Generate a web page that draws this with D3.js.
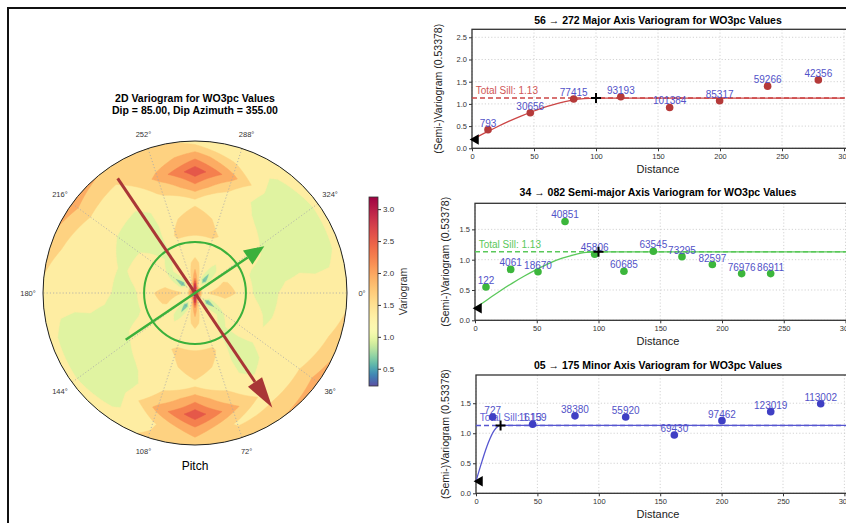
<!DOCTYPE html>
<html lang="en">
<head>
<meta charset="utf-8">
<title>2D Variogram for WO3pc Values</title>
<script src="https://d3js.org/d3.v7.min.js"></script>
<style type="text/css">
  body { margin: 0; background: white; }
  svg { display: block; font-family: "Liberation Sans", Arial, sans-serif; }
  .tick text { fill: #333; }
  .tick line { stroke: #333; }
</style>
</head>
<body>
<script type="text/javascript">

//Width and height
var w = 846;
var h = 523;

//Variogram map: one row per pitch angle (deg, clockwise), values at each radius
var mapAngles = [0, 18, 36, 54, 72, 90, 108, 126, 144, 162, 180, 198, 216, 234, 252, 270, 288, 306, 324, 342];
var mapRadii = [0, 0.05, 0.1, 0.2, 0.3, 0.4, 0.5, 0.6, 0.7, 0.8, 0.9, 1.0];
var mapValues = [
  [3.0, 1.3, 1.5, 1.65, 1.35, 1.1, 1.05, 1.25, 1.3, 1.3, 1.3, 1.35],
  [3.0, 1.3, 1.25, 1.3, 1.3, 1.25, 1.1, 1.25, 1.3, 1.3, 1.4, 1.6],
  [3.0, 1.3, 0.5, 1.1, 1.25, 1.3, 1.2, 1.25, 1.3, 1.35, 1.55, 1.95],
  [3.0, 1.3, 1.2, 1.2, 1.1, 1.0, 1.0, 1.05, 1.2, 1.3, 1.5, 1.75],
  [3.0, 1.6, 1.3, 1.3, 1.3, 1.5, 1.35, 1.3, 1.5, 1.85, 1.4, 1.65],
  [3.0, 2.9, 2.0, 1.55, 1.25, 1.5, 1.7, 1.35, 1.94, 2.55, 1.94, 1.55],
  [3.0, 1.6, 1.3, 1.3, 1.3, 1.5, 1.35, 1.3, 1.5, 1.85, 1.4, 1.5],
  [3.0, 1.3, 0.5, 1.1, 1.25, 1.3, 1.25, 1.2, 1.05, 1.1, 1.1, 1.3],
  [3.0, 1.3, 1.2, 1.2, 1.25, 1.3, 1.2, 1.0, 0.95, 0.95, 1.0, 1.25],
  [3.0, 1.3, 1.25, 1.5, 1.3, 1.1, 1.05, 1.0, 1.05, 1.0, 1.05, 1.25],
  [3.0, 1.3, 1.5, 1.65, 1.35, 1.1, 1.05, 1.25, 1.3, 1.3, 1.3, 1.35],
  [3.0, 1.3, 1.25, 1.3, 1.3, 1.25, 1.1, 1.25, 1.3, 1.3, 1.4, 1.6],
  [3.0, 1.3, 0.5, 1.1, 1.25, 1.2, 1.1, 1.1, 1.25, 1.35, 1.55, 1.95],
  [3.0, 1.3, 1.2, 1.2, 1.1, 1.0, 1.0, 1.05, 1.2, 1.2, 1.5, 1.7],
  [3.0, 1.6, 1.3, 1.3, 1.3, 1.5, 1.35, 1.3, 1.5, 1.85, 1.55, 1.6],
  [3.0, 2.9, 2.0, 1.55, 1.25, 1.5, 1.7, 1.35, 1.94, 2.55, 1.94, 1.3],
  [3.0, 1.6, 1.3, 1.3, 1.3, 1.5, 1.35, 1.3, 1.45, 1.85, 1.4, 1.3],
  [3.0, 1.3, 0.5, 1.1, 1.25, 1.3, 1.3, 1.2, 1.05, 1.1, 1.1, 1.3],
  [3.0, 1.3, 1.2, 1.2, 1.25, 1.3, 1.2, 1.0, 0.95, 0.95, 1.0, 1.25],
  [3.0, 1.3, 1.25, 1.5, 1.3, 1.1, 1.05, 1.0, 1.05, 1.0, 1.05, 1.25]
];
var mapLevels = [0.25, 0.55, 0.85, 1.15, 1.45, 1.75, 2.05, 2.35, 2.65, 2.95];
var angleTicks = [0, 36, 72, 108, 144, 180, 216, 252, 288, 324];
var colorTicks = [0.5, 1.0, 1.5, 2.0, 2.5, 3.0];
var colorDomain = [0.23, 1.13, 3.19];

//Fitted directions drawn on the map
var dirAngles = [56, 326];
var dirLengths = [0.91, 0.55];
var dirColors = ["#a93636", "#3bb03b"];
var minorRadius = 0.335;

//Directional variograms
var panelTitles = [
  "56 \u2192 272 Major Axis Variogram for WO3pc Values",
  "34 \u2192 082 Semi-major Axis Variogram for WO3pc Values",
  "05 \u2192 175 Minor Axis Variogram for WO3pc Values"
];
var majorLag = [12.9, 47, 82, 120, 159.4, 199.7, 238.4, 279.3];
var majorGamma = [0.42, 0.80, 1.11, 1.16, 0.92, 1.07, 1.40, 1.54];
var majorPairs = [793, 30656, 77415, 93193, 101384, 85317, 59266, 42356];

var semiLag = [8.9, 28.9, 51, 72.9, 96.9, 120.6, 144.4, 167.6, 192.2, 215.9, 239.4];
var semiGamma = [0.55, 0.84, 0.80, 1.63, 1.09, 0.81, 1.14, 1.05, 0.92, 0.77, 0.77];
var semiPairs = [122, 4061, 18670, 40851, 45806, 60685, 63545, 73295, 82597, 76976, 86911];

var minorLag = [13.6, 46.1, 80.6, 121.9, 161.5, 200.3, 240, 280.7];
var minorGamma = [1.27, 1.15, 1.29, 1.27, 0.97, 1.21, 1.36, 1.49];
var minorPairs = [727, 16159, 38380, 55920, 69430, 97462, 123019, 113002];

//Fitted model curves
var longModelLag = [0, 10, 20, 30, 40, 50, 60, 70, 80, 90, 100, 300];
var longModelGamma = [0.2, 0.34, 0.48, 0.61, 0.73, 0.84, 0.94, 1.02, 1.08, 1.12, 1.13, 1.13];
var shortModelLag = [0, 5, 10, 15, 20, 300];
var shortModelGamma = [0.2, 0.54, 0.84, 1.05, 1.13, 1.13];

var totalSill = 1.13;
var nugget = 0.2;
var ranges = [100, 100, 20];
var distTicks = [0, 50, 100, 150, 200, 250, 300];

//Create SVG element
var svg = d3.select("body")
  .append("svg")
  .attr("width", w)
  .attr("height", h);

//Figure frame
svg.append("rect")
  .attr("x", 8).attr("y", 8)
  .attr("width", 900).attr("height", 600)
  .attr("fill", "none")
  .attr("stroke", "#111")
  .attr("stroke-width", 2);

//Colour: Spectral reversed, centred on the sill
var norm = d3.scaleLinear().domain(colorDomain).range([1, 0.5, 0]).clamp(true);
var color = function(v) { return d3.interpolateSpectral(norm(v)); };
//colour of a filled band, picked inside the band
var bandColor = function(lo) { return color(lo < colorDomain[1] ? lo + 0.1 : lo + 0.2); };

// ---------- polar variogram map ----------
var cx = 195, cy = 293, R = 152;
var nA = mapAngles.length + 1;
var nR = mapRadii.length;

var grid = [];
for (var j = 0; j < nR; j++) {
  for (var i = 0; i < nA; i++) {
    grid.push(mapValues[i % mapAngles.length][j]);
  }
}

var bands = d3.contours().size([nA, nR]).thresholds(mapLevels)(grid);

var thetaScale = d3.scaleLinear().domain([0.5, nA - 0.5]).range([0, 360]);
var rScale = d3.scaleLinear()
  .domain(mapRadii.map(function(d, i) { return i + 0.5; }))
  .range(mapRadii.map(function(d) { return d * R; }));

function clipSide(ring, k, v, above) {
  var out = [];
  for (var i = 0; i < ring.length; i++) {
    var a = ring[i], b = ring[(i + 1) % ring.length];
    var ina = above ? a[k] >= v : a[k] <= v;
    var inb = above ? b[k] >= v : b[k] <= v;
    if (ina) out.push(a);
    if (ina !== inb) {
      var t = (v - a[k]) / (b[k] - a[k]);
      out.push([a[0] + t * (b[0] - a[0]), a[1] + t * (b[1] - a[1])]);
    }
  }
  return out;
}

function toXY(p) {
  var a = thetaScale(p[0]) * Math.PI / 180;
  var r = rScale(p[1]);
  return [cx + r * Math.cos(a), cy + r * Math.sin(a)];
}

function ringPath(ring) {
  ring = clipSide(ring, 0, 0.5, true);
  ring = clipSide(ring, 0, nA - 0.5, false);
  ring = clipSide(ring, 1, 0.5, true);
  ring = clipSide(ring, 1, nR - 0.5, false);
  if (ring.length < 3) return "";
  var pts = [];
  for (var i = 0; i < ring.length; i++) {
    var a = ring[i], b = ring[(i + 1) % ring.length];
    var n = Math.max(1, Math.ceil(Math.abs(b[0] - a[0]) / 0.1));
    for (var s = 0; s < n; s++) {
      pts.push(toXY([a[0] + (b[0] - a[0]) * s / n, a[1] + (b[1] - a[1]) * s / n]));
    }
  }
  return "M" + pts.map(function(p) { return p[0].toFixed(2) + "," + p[1].toFixed(2); }).join("L") + "Z";
}

svg.append("clipPath").attr("id", "disk")
  .append("circle").attr("cx", cx).attr("cy", cy).attr("r", R);

svg.append("g")
  .attr("clip-path", "url(#disk)")
  .selectAll("path")
  .data(bands)
  .enter()
  .append("path")
  .attr("d", function(d) {
    return d.coordinates.map(function(poly) {
      return poly.map(ringPath).join("");
    }).join("");
  })
  .attr("fill-rule", "evenodd")
  .attr("fill", function(d) { return bandColor(d.value); })
  .attr("stroke", function(d) { return bandColor(d.value); })
  .attr("stroke-width", 0.5);

//Angle grid
svg.append("g").selectAll("line")
  .data(angleTicks)
  .enter()
  .append("line")
  .attr("x1", cx).attr("y1", cy)
  .attr("x2", function(d) { return cx + R * Math.cos(d * Math.PI / 180); })
  .attr("y2", function(d) { return cy + R * Math.sin(d * Math.PI / 180); })
  .attr("stroke", "#a8a8a8")
  .attr("stroke-width", 0.8)
  .attr("stroke-dasharray", "1.2,2");

svg.append("g").selectAll("text")
  .data(angleTicks)
  .enter()
  .append("text")
  .attr("x", function(d) { return cx + 167 * Math.cos(d * Math.PI / 180); })
  .attr("y", function(d) { return cy + 167 * Math.sin(d * Math.PI / 180); })
  .attr("dy", "0.35em")
  .attr("text-anchor", "middle")
  .attr("font-size", 7.5)
  .attr("fill", "#333")
  .text(function(d) { return d + "\u00b0"; });

svg.append("circle")
  .attr("cx", cx).attr("cy", cy).attr("r", R)
  .attr("fill", "none")
  .attr("stroke", "#222")
  .attr("stroke-width", 1);

//Minor range circle
svg.append("circle")
  .attr("cx", cx).attr("cy", cy).attr("r", minorRadius * R)
  .attr("fill", "none")
  .attr("stroke", dirColors[1])
  .attr("stroke-width", 2);

//Direction arrows
var headLen = [31, 20], headWid = [17, 17], shaftWid = [3, 2.5];
dirAngles.forEach(function(ang, k) {
  var a = ang * Math.PI / 180;
  var ux = Math.cos(a), uy = Math.sin(a);
  var L = dirLengths[k] * R;
  var tip = [cx + ux * L, cy + uy * L];
  var base = [tip[0] - ux * headLen[k], tip[1] - uy * headLen[k]];
  svg.append("line")
    .attr("x1", cx - ux * L).attr("y1", cy - uy * L)
    .attr("x2", base[0]).attr("y2", base[1])
    .attr("stroke", dirColors[k])
    .attr("stroke-width", shaftWid[k]);
  var hw = headWid[k] / 2;
  svg.append("path")
    .attr("d", "M" + tip[0] + "," + tip[1] +
      "L" + (base[0] - uy * hw) + "," + (base[1] + ux * hw) +
      "L" + (base[0] + uy * hw) + "," + (base[1] - ux * hw) + "Z")
    .attr("fill", dirColors[k]);
});

//Titles
svg.append("text")
  .attr("x", cx).attr("y", 102)
  .attr("text-anchor", "middle")
  .attr("font-weight", "bold")
  .attr("font-size", 10.5)
  .text("2D Variogram for WO3pc Values");
svg.append("text")
  .attr("x", cx).attr("y", 114)
  .attr("text-anchor", "middle")
  .attr("font-weight", "bold")
  .attr("font-size", 10.5)
  .text("Dip = 85.00, Dip Azimuth = 355.00");
svg.append("text")
  .attr("x", cx).attr("y", 470)
  .attr("text-anchor", "middle")
  .attr("font-size", 12)
  .text("Pitch");

//Colour bar
var cTop = 197, cBot = 386;
var cScale = d3.scaleLinear().domain([colorDomain[0], colorDomain[2]]).range([cBot, cTop]);
var grad = svg.append("defs").append("linearGradient")
  .attr("id", "cbar")
  .attr("x1", 0).attr("y1", 1).attr("x2", 0).attr("y2", 0);
d3.range(0, 1.0001, 0.02).forEach(function(t) {
  var v = colorDomain[0] + t * (colorDomain[2] - colorDomain[0]);
  grad.append("stop").attr("offset", t).attr("stop-color", color(v));
});
svg.append("rect")
  .attr("x", 369).attr("y", cTop)
  .attr("width", 9).attr("height", cBot - cTop)
  .attr("fill", "url(#cbar)")
  .attr("stroke", "#333")
  .attr("stroke-width", 0.8);
var cAxis = svg.append("g")
  .attr("transform", "translate(378,0)")
  .call(d3.axisRight(cScale).tickValues(colorTicks).tickSize(3).tickPadding(2).tickFormat(d3.format(".1f")));
cAxis.select(".domain").remove();
cAxis.selectAll("text").attr("font-size", 8).attr("font-family", "Liberation Sans, Arial, sans-serif");
svg.append("text")
  .attr("transform", "translate(407," + ((cTop + cBot) / 2) + ") rotate(-90)")
  .attr("text-anchor", "middle")
  .attr("font-size", 10.5)
  .attr("fill", "#333")
  .text("Variogram");

// ---------- directional variogram panels ----------
var panels = [
  { title: panelTitles[0], lag: majorLag, gamma: majorGamma, pairs: majorPairs,
    mLag: longModelLag, mGamma: longModelGamma, range: ranges[0],
    left: 472, kx: 1.24, top: 29.3, bottom: 148.3, yMax: 2.68, yTicks: [0, 0.5, 1.0, 1.5, 2.0, 2.5],
    titleY: 24, labelX: 442, point: "#b53a3a", line: "#cc4646", sillText: "#d05656" },
  { title: panelTitles[1], lag: semiLag, gamma: semiGamma, pairs: semiPairs,
    mLag: longModelLag, mGamma: longModelGamma, range: ranges[1],
    left: 475, kx: 1.235, top: 203.3, bottom: 320.3, yMax: 1.93, yTicks: [0, 0.5, 1.0, 1.5],
    titleY: 195.5, labelX: 449, point: "#3cb63c", line: "#5ac85a", sillText: "#5ac85a" },
  { title: panelTitles[2], lag: minorLag, gamma: minorGamma, pairs: minorPairs,
    mLag: shortModelLag, mGamma: shortModelGamma, range: ranges[2],
    left: 476, kx: 1.228, top: 375, bottom: 493.3, yMax: 1.97, yTicks: [0, 0.5, 1.0, 1.5],
    titleY: 369, labelX: 449, point: "#3f3fc4", line: "#5656d0", sillText: "#6464d6" }
];

panels.forEach(function(p) {
  var x = d3.scaleLinear().domain([0, 320]).range([p.left, p.left + 320 * p.kx]);
  var y = d3.scaleLinear().domain([0, p.yMax]).range([p.bottom, p.top]);
  var g = svg.append("g");

  //Grid
  g.selectAll(".vgrid").data(distTicks).enter().append("line")
    .attr("x1", function(d) { return x(d); }).attr("x2", function(d) { return x(d); })
    .attr("y1", p.top).attr("y2", p.bottom)
    .attr("stroke", "#c8c8c8").attr("stroke-width", 0.8).attr("stroke-dasharray", "1.2,2");
  g.selectAll(".hgrid").data(p.yTicks).enter().append("line")
    .attr("x1", p.left).attr("x2", w + 20)
    .attr("y1", function(d) { return y(d); }).attr("y2", function(d) { return y(d); })
    .attr("stroke", "#c8c8c8").attr("stroke-width", 0.8).attr("stroke-dasharray", "1.2,2");

  //Axes
  var xa = g.append("g")
    .attr("transform", "translate(0," + p.bottom + ")")
    .call(d3.axisBottom(x).tickValues(distTicks).tickSize(3).tickPadding(2).tickFormat(d3.format("d")));
  var ya = g.append("g")
    .attr("transform", "translate(" + p.left + ",0)")
    .call(d3.axisLeft(y).tickValues(p.yTicks).tickSize(3).tickPadding(2).tickFormat(d3.format(".1f")));
  [xa, ya].forEach(function(a) {
    a.select(".domain").remove();
    a.selectAll("text").attr("font-size", 7.5).attr("font-family", "Liberation Sans, Arial, sans-serif");
  });

  //Spines
  g.append("rect")
    .attr("x", p.left).attr("y", p.top)
    .attr("width", w + 40 - p.left).attr("height", p.bottom - p.top)
    .attr("fill", "none").attr("stroke", "#333").attr("stroke-width", 1.3);

  //Sill
  g.append("line")
    .attr("x1", x(0)).attr("x2", w + 20)
    .attr("y1", y(totalSill)).attr("y2", y(totalSill))
    .attr("stroke", p.line).attr("stroke-width", 1.5).attr("stroke-dasharray", "5,3");
  g.append("text")
    .attr("x", x(3)).attr("y", y(totalSill) - 4)
    .attr("font-size", 10)
    .attr("fill", p.sillText)
    .text("Total Sill: " + totalSill.toFixed(2));

  //Model curve
  var model = p.mLag.map(function(d, i) { return [d, p.mGamma[i]]; });
  g.append("path")
    .datum(model)
    .attr("d", d3.line()
      .x(function(d) { return x(d[0]); })
      .y(function(d) { return y(d[1]); })
      .curve(d3.curveMonotoneX))
    .attr("fill", "none")
    .attr("stroke", p.line)
    .attr("stroke-width", 1.3);

  //Experimental points
  g.selectAll(".pt").data(p.lag).enter().append("circle")
    .attr("cx", function(d) { return x(d); })
    .attr("cy", function(d, i) { return y(p.gamma[i]); })
    .attr("r", 3.8)
    .attr("fill", p.point);
  g.selectAll(".np").data(p.lag).enter().append("text")
    .attr("x", function(d) { return x(d); })
    .attr("y", function(d, i) { return y(p.gamma[i]) - 3; })
    .attr("text-anchor", "middle")
    .attr("font-size", 10)
    .attr("fill", "#5252c8")
    .text(function(d, i) { return p.pairs[i]; });

  //Nugget and range markers
  g.append("path")
    .attr("d", d3.symbol().type(d3.symbolTriangle).size(48))
    .attr("transform", "translate(" + x(3) + "," + y(nugget) + ") rotate(-90)")
    .attr("fill", "#000");
  g.append("path")
    .attr("d", "M-5,0H5M0,-5V5")
    .attr("transform", "translate(" + x(p.range) + "," + y(totalSill) + ")")
    .attr("stroke", "#000")
    .attr("stroke-width", 2);

  //Labels
  g.append("text")
    .attr("x", 658).attr("y", p.titleY)
    .attr("text-anchor", "middle")
    .attr("font-weight", "bold")
    .attr("font-size", 10.5)
    .text(p.title);
  g.append("text")
    .attr("x", 658).attr("y", p.bottom + 25)
    .attr("text-anchor", "middle")
    .attr("font-size", 11)
    .attr("fill", "#222")
    .text("Distance");
  g.append("text")
    .attr("transform", "translate(" + p.labelX + "," + ((p.top + p.bottom) / 2) + ") rotate(-90)")
    .attr("text-anchor", "middle")
    .attr("font-size", 10.5)
    .attr("fill", "#222")
    .text("(Semi-)Variogram (0.53378)");
});

</script>
</body>
</html>
